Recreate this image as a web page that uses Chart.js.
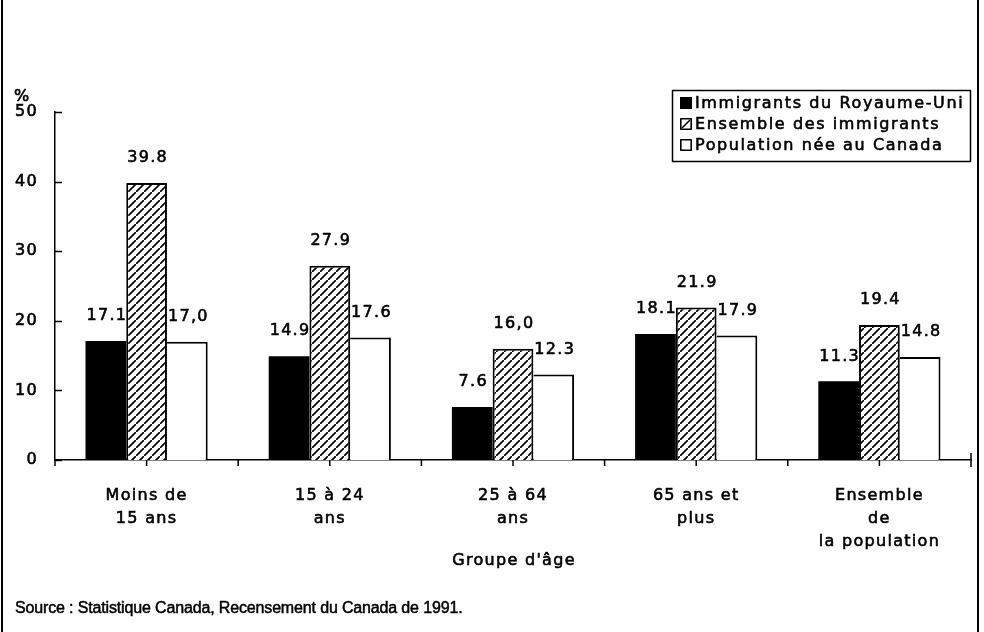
<!DOCTYPE html>
<html><head><meta charset="utf-8">
<script src="https://cdn.jsdelivr.net/npm/chart.js@4.4.1/dist/chart.umd.min.js"></script>
<style>html,body{margin:0;padding:0;background:#fff}#wrap{width:984px;height:632px;position:relative}</style>
</head><body><div id="wrap"><canvas id="c" width="984" height="632"></canvas></div>
<script>
// ---- data ----
const categories = [["Moins de","15 ans"],["15 à 24","ans"],["25 à 64","ans"],["65 ans et","plus"],["Ensemble","de","la population"]];
const seriesNames = ["Immigrants du Royaume-Uni","Ensemble des immigrants","Population née au Canada"];
const ukValues = [17.1,14.9,7.6,18.1,11.3];
const allImmValues = [39.8,27.9,16.0,21.9,19.4];
const canadaValues = [17.0,17.6,12.3,17.9,14.8];
const ukLabels = ["17.1","14.9","7.6","18.1","11.3"];
const allImmLabels = ["39.8","27.9","16,0","21.9","19.4"];
const canadaLabels = ["17,0","17.6","12.3","17.9","14.8"];
const yTicks = [0,10,20,30,40,50];
const yUnit = "%";
const xTitle = "Groupe d'âge";
const sourceText = "Source : Statistique Canada, Recensement du Canada de 1991.";

// ---- styles ----
const FONT = '"DejaVu Sans", Verdana, sans-serif';
const SRC_FONT = '"Liberation Sans", Arial, Helvetica, sans-serif';
const LS = '1.3px';
const STROKE = 0.6;

function makeHatch(){
  const s = 8;
  const c = document.createElement('canvas'); c.width = s; c.height = s;
  const g = c.getContext('2d');
  g.fillStyle = '#fff'; g.fillRect(0,0,s,s);
  g.strokeStyle = '#000'; g.lineWidth = 1.7;
  g.beginPath();
  g.moveTo(-2, s+2); g.lineTo(s+2, -2);
  g.moveTo(-2-s, 2); g.lineTo(2, -2);
  g.moveTo(s-2, 2*s+2); g.lineTo(2*s+2, s-2);
  g.stroke();
  return c;
}
const ctx0 = document.getElementById('c').getContext('2d');
const hatch = ctx0.createPattern(makeHatch(), 'repeat');

const valueLabelSets = [ukLabels, allImmLabels, canadaLabels];

function boldText(ctx, t, x, y, w){
  ctx.lineWidth = w;
  ctx.lineJoin = 'round';
  ctx.strokeText(t, x, y);
  ctx.fillText(t, x, y);
}

const decor = {
  id: 'decor',
  beforeLayout(chart){ chart.ctx.letterSpacing = LS; },
  beforeDraw(chart){ chart.ctx.letterSpacing = LS; },
  afterDatasetsDraw(chart){
    const ctx = chart.ctx;
    ctx.save();
    ctx.letterSpacing = LS;
    ctx.font = '16px ' + FONT;
    ctx.fillStyle = '#000'; ctx.strokeStyle = '#000';
    ctx.textAlign = 'center';
    ctx.textBaseline = 'middle';
    chart.data.datasets.forEach((ds, di) => {
      const meta = chart.getDatasetMeta(di);
      meta.data.forEach((bar, i) => {
        boldText(ctx, valueLabelSets[di][i], bar.x + 1, bar.y - 25, STROKE);
      });
    });
    ctx.restore();
  },
  afterDraw(chart){
    const ctx = chart.ctx;
    const xs = chart.scales.x, ys = chart.scales.y;
    const ca = chart.chartArea;
    ctx.save();
    ctx.strokeStyle = '#000';
    ctx.fillStyle = '#000';
    // frame side lines
    ctx.lineWidth = 2;
    ctx.beginPath();
    ctx.moveTo(2, 0); ctx.lineTo(2, 632);
    ctx.moveTo(978, 0); ctx.lineTo(978, 632);
    ctx.stroke();
    // y ticks (inward)
    ctx.lineWidth = 1.5;
    ctx.beginPath();
    yTicks.forEach(v => {
      const y = Math.round(ys.getPixelForValue(v)) + 0.5;
      ctx.moveTo(ca.left, y); ctx.lineTo(ca.left + 7, y);
    });
    // x ticks: category boundaries and centers
    const n = categories.length;
    const half = (xs.getPixelForValue(1) - xs.getPixelForValue(0)) / 2;
    for (let i = 0; i < n; i++) {
      const c = xs.getPixelForValue(i);
      ctx.moveTo(c - half, ca.bottom); ctx.lineTo(c - half, ca.bottom + 6);
      ctx.moveTo(c, ca.bottom); ctx.lineTo(c, ca.bottom + 6);
    }
    ctx.moveTo(ca.right, ca.bottom - 7); ctx.lineTo(ca.right, ca.bottom + 7);
    ctx.stroke();

    // unit and axis title
    ctx.letterSpacing = LS;
    ctx.font = '16px ' + FONT;
    ctx.textBaseline = 'middle';
    ctx.textAlign = 'left';
    boldText(ctx, yUnit, 14, 97, STROKE);
    ctx.textAlign = 'center';
    boldText(ctx, xTitle, (ca.left + ca.right) / 2 + 1, 561, STROKE);

    // source
    ctx.letterSpacing = '-0.15px';
    ctx.textAlign = 'left';
    ctx.font = '16px ' + SRC_FONT;
    boldText(ctx, sourceText, 15, 609, 0.5);

    // legend
    const lx = 672, ly = 90, lw = 298, lh = 71;
    ctx.lineWidth = 1.5;
    ctx.strokeRect(lx + 0.5, ly + 0.5, lw, lh);
    ctx.letterSpacing = '1.6px';
    ctx.font = '16px ' + FONT;
    ctx.textAlign = 'left';
    chart.data.datasets.forEach((ds, i) => {
      const cy = 103 + i * 21;
      const mx = 680, my = cy - 6, ms = 12;
      if (i === 0) {
        ctx.fillStyle = '#000'; ctx.fillRect(mx, my, ms, ms);
      } else {
        ctx.fillStyle = '#fff'; ctx.fillRect(mx, my, ms, ms);
        ctx.lineWidth = 1.6; ctx.strokeRect(mx + 0.8, my + 0.8, ms - 1.6, ms - 1.6);
        if (i === 1) {
          ctx.beginPath(); ctx.moveTo(mx + 2, my + ms - 2); ctx.lineTo(mx + ms - 2, my + 2); ctx.stroke();
        }
      }
      ctx.fillStyle = '#000';
      boldText(ctx, ds.label, 695, cy + 1, STROKE);
    });
    ctx.restore();
  }
};

new Chart(document.getElementById('c'), {
  type: 'bar',
  data: {
    labels: categories,
    datasets: [
      { label: seriesNames[0], data: ukValues, backgroundColor: '#000', borderColor: '#000', borderWidth: 0 },
      { label: seriesNames[1], data: allImmValues, backgroundColor: hatch, borderColor: '#000',
        borderWidth: { top: 2, left: 2, right: 2, bottom: 0 }, borderSkipped: false },
      { label: seriesNames[2], data: canadaValues, backgroundColor: '#fff', borderColor: '#000',
        borderWidth: { top: 2, left: 0, right: 2, bottom: 0 }, borderSkipped: false }
    ]
  },
  options: {
    responsive: false,
    animation: false,
    devicePixelRatio: 1,
    layout: { padding: { left: 0, right: 13, top: 112, bottom: 0 } },
    datasets: { bar: { categoryPercentage: 0.667, barPercentage: 1.0 } },
    plugins: { legend: { display: false }, tooltip: { enabled: false } },
    scales: {
      x: {
        grid: { display: false },
        border: { display: true, color: '#000', width: 1.5 },
        ticks: { color: '#000', font: { family: FONT, size: 16, lineHeight: '23px' }, padding: 16, maxRotation: 0, autoSkip: false,
                 textStrokeColor: '#000', textStrokeWidth: STROKE },
        afterFit(s){ s.height = 172; }
      },
      y: {
        min: 0, max: 50,
        grid: { display: false },
        border: { display: true, color: '#000', width: 1.5 },
        ticks: { color: '#000', font: { family: FONT, size: 16 }, padding: 9,
                 textStrokeColor: '#000', textStrokeWidth: STROKE },
        afterBuildTicks(s){ s.ticks = yTicks.map(v => ({ value: v })); },
        afterFit(s){ s.width = 55; }
      }
    }
  },
  plugins: [decor]
});
</script>
</body></html>
